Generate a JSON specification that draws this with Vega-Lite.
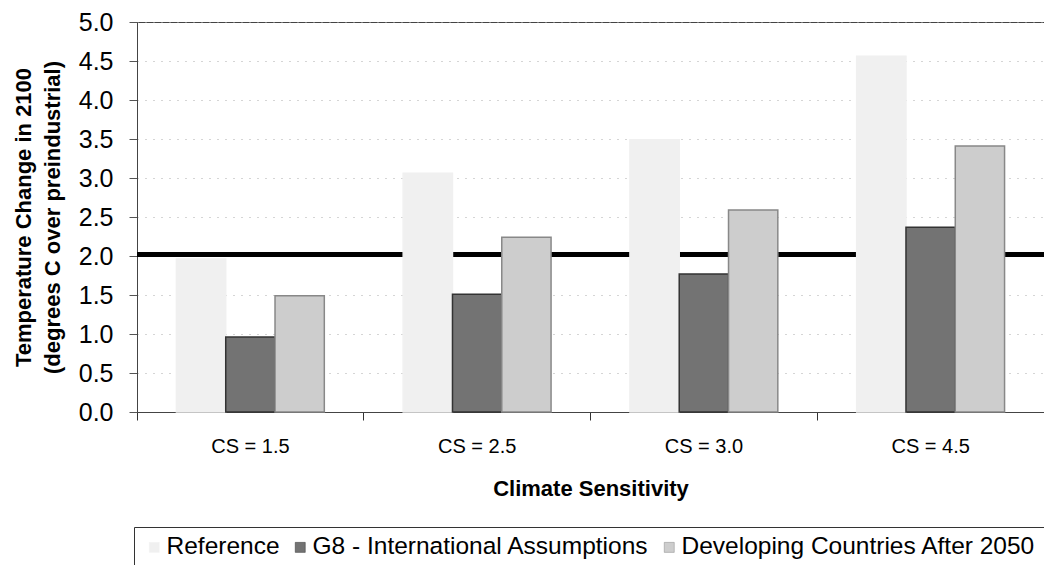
{
  "$schema": "https://vega.github.io/schema/vega-lite/v6.json",
  "autosize": {"type": "none"},
  "padding": {"left": 137, "top": 22, "right": 0, "bottom": 153},
  "width": 907,
  "height": 390,
  "background": "white",
  "config": {
    "font": "Liberation Sans",
    "view": {"stroke": "#444", "strokeWidth": 1},
    "axisY": {
      "values": [0, 0.5, 1, 1.5, 2, 2.5, 3, 3.5, 4, 4.5, 5],
      "format": ".1f",
      "labelOverlap": false,
      "titleFontSize": 22, "titleFontWeight": "bold", "titleColor": "black",
      "titlePadding": 14, "titleLineHeight": 29,
      "labelFontSize": 25, "labelColor": "black", "labelPadding": 16,
      "tickSize": 8, "tickColor": "#555",
      "domainColor": "#444",
      "grid": true, "gridColor": "#aaa", "gridDash": [1, 7], "gridWidth": 1
    }
  },
  "datasets": {
    "bars": [
      {"cs": "CS = 1.5", "series": "Reference", "value": 1.96},
      {"cs": "CS = 1.5", "series": "G8 - International Assumptions", "value": 0.96},
      {"cs": "CS = 1.5", "series": "Developing Countries After 2050", "value": 1.49},
      {"cs": "CS = 2.5", "series": "Reference", "value": 3.06},
      {"cs": "CS = 2.5", "series": "G8 - International Assumptions", "value": 1.51},
      {"cs": "CS = 2.5", "series": "Developing Countries After 2050", "value": 2.24},
      {"cs": "CS = 3.0", "series": "Reference", "value": 3.49},
      {"cs": "CS = 3.0", "series": "G8 - International Assumptions", "value": 1.77},
      {"cs": "CS = 3.0", "series": "Developing Countries After 2050", "value": 2.59},
      {"cs": "CS = 4.5", "series": "Reference", "value": 4.56},
      {"cs": "CS = 4.5", "series": "G8 - International Assumptions", "value": 2.37},
      {"cs": "CS = 4.5", "series": "Developing Countries After 2050", "value": 3.41}
    ],
    "threshold": [{"level": 2.02}]
  },
  "layer": [
    {
      "data": {"name": "threshold"},
      "mark": {"type": "rule", "color": "black", "strokeWidth": 5},
      "encoding": {
        "y": {
          "field": "level", "type": "quantitative",
          "scale": {"domain": [0, 5]},
          "axis": {
            "values": [0, 0.5, 1, 1.5, 2, 2.5, 3, 3.5, 4, 4.5, 5],
            "labelOverlap": false,
            "title": ["Temperature Change in 2100", "(degrees C over preindustrial)"]
          }
        }
      }
    },
    {
      "data": {"name": "bars"},
      "mark": {"type": "bar", "strokeWidth": 1.5},
      "encoding": {
        "x": {
          "field": "cs", "type": "nominal",
          "scale": {"paddingInner": 0, "paddingOuter": 0},
          "axis": {
            "title": "Climate Sensitivity",
            "titleFontSize": 22, "titleFontWeight": "bold", "titleColor": "black", "titlePadding": 22,
            "labelAngle": 0, "labelFontSize": 20, "labelColor": "black", "labelPadding": 16,
            "tickSize": 8, "tickColor": "#333", "bandPosition": 0,
            "domainColor": "#444"
          }
        },
        "xOffset": {
          "field": "series", "type": "nominal",
          "sort": ["Reference", "G8 - International Assumptions", "Developing Countries After 2050"],
          "scale": {"paddingInner": 0, "paddingOuter": 0.8}
        },
        "y": {
          "field": "value", "type": "quantitative",
          "scale": {"domain": [0, 5]},
          "axis": {
            "values": [0, 0.5, 1, 1.5, 2, 2.5, 3, 3.5, 4, 4.5, 5],
            "labelOverlap": false,
            "title": ["Temperature Change in 2100", "(degrees C over preindustrial)"]
          }
        },
        "color": {
          "field": "series", "type": "nominal",
          "sort": ["Reference", "G8 - International Assumptions", "Developing Countries After 2050"],
          "scale": {
            "domain": ["Reference", "G8 - International Assumptions", "Developing Countries After 2050"],
            "range": ["#f0f0f0", "#737373", "#cdcdcd"]
          },
          "legend": {
            "title": null, "orient": "none", "direction": "horizontal",
            "legendX": -3, "legendY": 505,
            "labelFontSize": 24.5, "labelColor": "black", "labelLimit": 500,
            "symbolType": "square", "symbolSize": 100, "symbolStrokeColor": "#777", "symbolStrokeWidth": 0.5,
            "labelOffset": 0, "columnPadding": 8,
            "strokeColor": "#333", "padding": 8
          }
        },
        "stroke": {
          "field": "series", "type": "nominal",
          "scale": {
            "domain": ["Reference", "G8 - International Assumptions", "Developing Countries After 2050"],
            "range": ["#f0f0f0", "#333333", "#888888"]
          },
          "legend": null
        }
      }
    }
  ]
}
